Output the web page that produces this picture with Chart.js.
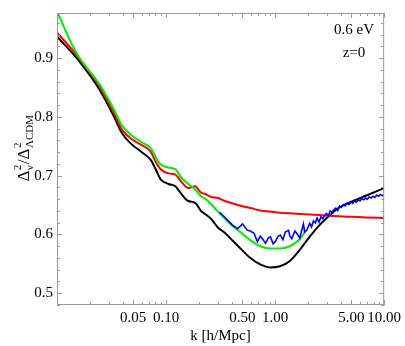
<!DOCTYPE html>
<html>
<head>
<meta charset="utf-8">
<script src="https://cdn.jsdelivr.net/npm/chart.js@4.4.0/dist/chart.umd.min.js"></script>
<style>
  html, body { margin: 0; padding: 0; background: #fff; }
  #wrap { width: 405px; height: 346px; }
</style>
</head>
<body>
<div id="wrap"><canvas id="myChart"></canvas></div>
<script>
// k values [h/Mpc] shared by the black and red curves
const kValues = [0.01, 0.01615, 0.02449, 0.03349, 0.03957, 0.04873, 0.06003, 0.07239, 0.08035, 0.08918,
	0.1053, 0.1219, 0.1381, 0.1598, 0.1849, 0.2096, 0.2278, 0.2581, 0.2986, 0.3455,
	0.3915, 0.4824, 0.5941, 0.7316, 0.9012, 1.110, 1.367, 1.684, 2.074, 2.554,
	3.146, 3.874, 5.187, 6.800, 10];
const blackCurve = [0.937, 0.894, 0.847, 0.800, 0.772, 0.753, 0.740, 0.727, 0.711, 0.694,
	0.686, 0.682, 0.669, 0.657, 0.654, 0.640, 0.635, 0.627, 0.612, 0.603,
	0.593, 0.576, 0.560, 0.549, 0.544, 0.546, 0.555, 0.574, 0.596, 0.616,
	0.632, 0.646, 0.657, 0.666, 0.679];
const redCurve = [0.944, 0.899, 0.852, 0.806, 0.778, 0.762, 0.752, 0.741, 0.724, 0.711,
	0.704, 0.702, 0.690, 0.679, 0.682, 0.671, 0.669, 0.664, 0.662, 0.657,
	0.654, 0.649, 0.645, 0.641, 0.639, 0.637, 0.636, 0.635, 0.634, 0.633,
	0.632, 0.631, 0.630, 0.629, 0.628];

const kGreen = [0.01, 0.0140, 0.01615, 0.02449, 0.03349, 0.03957, 0.04873, 0.06003, 0.07239, 0.08035,
	0.08918, 0.1053, 0.1219, 0.1381, 0.1598, 0.1849, 0.2096, 0.2278, 0.2581, 0.2986,
	0.3455, 0.3915, 0.4824, 0.5941, 0.7316, 0.9012, 1.110, 1.367, 1.684, 1.869];
const greenCurve = [0.980, 0.920, 0.900, 0.856, 0.812, 0.785, 0.768, 0.757, 0.747, 0.732,
	0.719, 0.714, 0.711, 0.697, 0.686, 0.677, 0.665, 0.661, 0.652, 0.639,
	0.627, 0.617, 0.604, 0.590, 0.580, 0.576, 0.576, 0.580, 0.592, 0.604];

const kBlue = [0.3094, 0.3384, 0.3679, 0.4082, 0.4530, 0.5027, 0.5578, 0.5941, 0.6417, 0.6874,
	0.7316, 0.7628, 0.8171, 0.8643, 0.9071, 0.9590, 1.006, 1.064, 1.117, 1.181,
	1.239, 1.330, 1.367, 1.425, 1.517, 1.582, 1.684, 1.819, 1.869, 1.948,
	2.00, 2.08, 2.16, 2.25, 2.34, 2.43, 2.53, 2.63, 2.74, 2.85,
	2.96, 3.08, 3.20, 3.33, 3.46, 3.60, 3.75, 3.90, 4.05, 4.20,
	4.40, 4.55, 4.75, 4.95, 5.15, 5.35, 5.55, 5.80, 6.00, 6.25,
	6.50, 6.75, 7.00, 7.30, 7.60, 7.90, 8.20, 8.55, 8.90, 9.25,
	9.60, 10];
const blueCurve = [0.638, 0.631, 0.624, 0.616, 0.610, 0.618, 0.607, 0.606, 0.602, 0.588,
	0.597, 0.593, 0.585, 0.594, 0.596, 0.584, 0.588, 0.597, 0.599, 0.591,
	0.604, 0.607, 0.597, 0.593, 0.606, 0.602, 0.594, 0.618, 0.604, 0.607,
	0.612, 0.619, 0.613, 0.623, 0.620, 0.628, 0.621, 0.630, 0.627, 0.633,
	0.636, 0.632, 0.640, 0.638, 0.642, 0.645, 0.641, 0.648, 0.646, 0.650,
	0.649, 0.653, 0.651, 0.655, 0.653, 0.657, 0.655, 0.659, 0.657, 0.661,
	0.659, 0.662, 0.660, 0.664, 0.662, 0.665, 0.663, 0.667, 0.665, 0.668,
	0.666, 0.667];

const xTickValues = [0.05, 0.1, 0.5, 1, 5, 10];
const xTickLabels = ['0.05', '0.10', '0.50', '1.00', '5.00', '10.00'];
const xMinorTicks = [0.02, 0.03, 0.04, 0.06, 0.07, 0.08, 0.09, 0.2, 0.3, 0.4,
	0.6, 0.7, 0.8, 0.9, 2, 3, 4, 6, 7, 8, 9];
const yTickValues = [0.5, 0.6, 0.7, 0.8, 0.9];
const yTickLabels = ['0.5', '0.6', '0.7', '0.8', '0.9'];
const yMinorTicks = [0.48, 0.52, 0.54, 0.56, 0.58, 0.62, 0.64, 0.66, 0.68, 0.72, 0.74, 0.76, 0.78,
	0.82, 0.84, 0.86, 0.88, 0.92, 0.94, 0.96];

const serif = "'Liberation Serif', 'DejaVu Serif', serif";
const pts = (ks, vs) => ks.map((k, i) => ({ x: k, y: vs[i] }));

// frame with inward ticks on all four sides, plus the text labels
const framePlugin = {
	id: 'frame',
	afterDatasetsDraw(chart) {
		const { ctx, chartArea: a, scales: { x, y } } = chart;
		ctx.save();
		ctx.strokeStyle = '#9a9a9a';
		ctx.lineWidth = 1;
		ctx.strokeRect(a.left + 0.5, a.top + 0.5, a.right - a.left - 1, a.bottom - a.top - 1);
		ctx.beginPath();
		const xt = (v, len) => {
			const px = Math.round(x.getPixelForValue(v)) + 0.5;
			ctx.moveTo(px, a.bottom); ctx.lineTo(px, a.bottom - len);
			ctx.moveTo(px, a.top); ctx.lineTo(px, a.top + len);
		};
		const yt = (v, len) => {
			const py = Math.round(y.getPixelForValue(v)) + 0.5;
			ctx.moveTo(a.left, py); ctx.lineTo(a.left + len, py);
			ctx.moveTo(a.right, py); ctx.lineTo(a.right - len, py);
		};
		xTickValues.forEach(v => xt(v, 5));
		xMinorTicks.forEach(v => xt(v, 3));
		yTickValues.forEach(v => yt(v, 5));
		yMinorTicks.forEach(v => yt(v, 3));
		ctx.stroke();

		ctx.fillStyle = '#000';
		ctx.textAlign = 'center';
		ctx.textBaseline = 'alphabetic';
		ctx.font = '15px ' + serif;
		ctx.fillText('0.6 eV', 354, 34);
		ctx.fillText('z=0', 354, 57);
		ctx.fillText('k [h/Mpc]', (a.left + a.right) / 2, 340);

		// y axis title: Δ²ν / Δ²ΛCDM, rotated
		const parts = [
			{ main: 'Δ', sup: '2', sub: 'ν' },
			{ main: '/Δ', sup: '2', sub: 'ΛCDM' }
		];
		const big = '17px ' + serif, small = '11px ' + serif;
		let total = 0;
		parts.forEach(p => {
			ctx.font = big; p.wm = ctx.measureText(p.main).width;
			ctx.font = small; p.ws = Math.max(ctx.measureText(p.sup).width, ctx.measureText(p.sub).width);
			total += p.wm + p.ws + 1;
		});
		ctx.translate(29, 148);
		ctx.rotate(-Math.PI / 2);
		ctx.textAlign = 'left';
		let cx = -total / 2;
		parts.forEach(p => {
			ctx.font = big; ctx.fillText(p.main, cx, 0);
			cx += p.wm + 0.5;
			ctx.font = small;
			ctx.fillText(p.sup, cx, -8);
			ctx.fillText(p.sub, cx, 4);
			cx += p.ws + 0.5;
		});
		ctx.restore();
	}
};

const ctx = document.getElementById('myChart').getContext('2d');
const myChart = new Chart(ctx, {
	type: 'line',
	data: {
		datasets: [
			{ data: pts(kBlue, blueCurve), borderColor: '#0000ff', borderWidth: 1.6, tension: 0, cubicInterpolationMode: 'default', order: 0 },
			{ data: pts(kGreen, greenCurve), borderColor: '#00ee00', borderWidth: 2, order: 1 },
			{ data: pts(kValues, redCurve), borderColor: '#ff0000', borderWidth: 2, order: 2 },
			{ data: pts(kValues, blackCurve), borderColor: '#000000', borderWidth: 2, order: 3 }
		]
	},
	options: {
		animation: false,
		responsive: true,
		maintainAspectRatio: false,
		layout: { padding: { top: 8, right: 17, left: 0, bottom: 0 } },
		elements: {
			point: { radius: 0 },
			line: { cubicInterpolationMode: 'monotone', fill: false }
		},
		scales: {
			x: {
				type: 'logarithmic',
				min: 0.01,
				max: 10,
				grid: { display: false, drawTicks: false },
				border: { display: false },
				afterBuildTicks: s => { s.ticks = xTickValues.map(v => ({ value: v })); },
				afterFit: s => { s.height = 41; },
				ticks: {
					autoSkip: false,
					maxRotation: 0,
					padding: 4,
					color: '#000',
					font: { family: serif, size: 15 },
					callback: v => xTickLabels[xTickValues.indexOf(v)]
				}
			},
			y: {
				min: 0.48,
				max: 0.977,
				grid: { display: false, drawTicks: false },
				border: { display: false },
				afterBuildTicks: s => { s.ticks = yTickValues.map(v => ({ value: v })); },
				afterFit: s => { s.width = 57; },
				ticks: {
					padding: 4,
					color: '#000',
					font: { family: serif, size: 15 },
					callback: v => yTickLabels[yTickValues.indexOf(v)]
				}
			}
		},
		plugins: {
			legend: { display: false },
			tooltip: { enabled: false }
		}
	},
	plugins: [framePlugin]
});
</script>
</body>
</html>
